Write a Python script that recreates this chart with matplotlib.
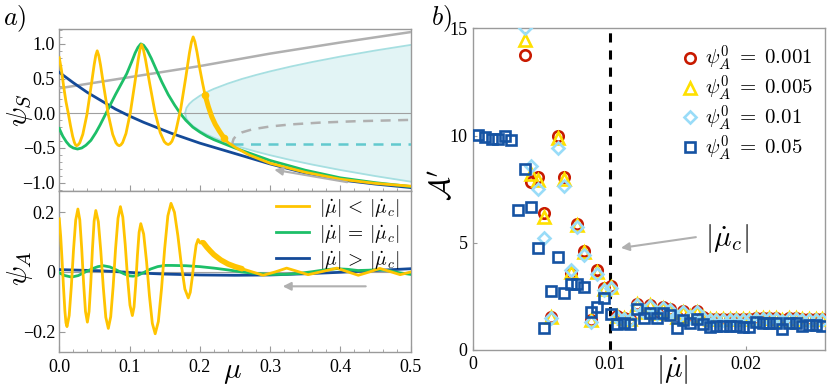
import matplotlib
matplotlib.use('Agg')
import matplotlib.pyplot as plt
from matplotlib.ticker import MultipleLocator, FixedLocator, FixedFormatter

plt.rcParams['font.family'] = ['Liberation Serif', 'DejaVu Serif']
plt.rcParams['mathtext.fontset'] = 'cm'

# ---------------- panel a) top : psi_S vs mu ----------------
gray_mu = [0.0, 0.1, 0.2, 0.25, 0.3, 0.4, 0.5]
gray_psi = [0.36, 0.52, 0.68, 0.77, 0.86, 1.02, 1.17]

grayd_mu = [0.247, 0.2465, 0.248, 0.252, 0.26, 0.275, 0.3, 0.33, 0.37, 0.42, 0.5]
grayd_psi = [-0.47, -0.42, -0.37, -0.32, -0.275, -0.23, -0.19, -0.16, -0.135, -0.115, -0.095]

cyan_mu = [0.179, 0.181, 0.185, 0.19, 0.2, 0.21, 0.22, 0.24, 0.26, 0.28, 0.3, 0.33, 0.36, 0.4, 0.45, 0.5]
cyan_up = [0.0, 0.078, 0.135, 0.182, 0.252, 0.306, 0.352, 0.429, 0.495, 0.552, 0.604, 0.675, 0.739, 0.817, 0.905, 0.985]
cyan_lo = [0.0, -0.078, -0.135, -0.182, -0.252, -0.306, -0.352, -0.429, -0.495, -0.552, -0.604, -0.675, -0.739, -0.817, -0.905, -0.985]

cyand_mu = [0.247, 0.5]
cyand_psi = [-0.447, -0.447]

blue_top_mu = [0.0, 0.02, 0.04, 0.06, 0.08, 0.1, 0.12, 0.14, 0.16, 0.18, 0.2, 0.22, 0.25, 0.3, 0.35, 0.4, 0.45, 0.5]
blue_top_psi = [0.59, 0.44, 0.30, 0.18, 0.06, -0.04, -0.13, -0.21, -0.29, -0.36, -0.43, -0.49, -0.58, -0.73, -0.86, -0.96, -1.02, -1.07]

green_top_mu = [0.0, 0.005, 0.01, 0.015, 0.02, 0.026, 0.032, 0.038, 0.045, 0.052, 0.058, 0.065, 0.072, 0.08,
                0.088, 0.096, 0.103, 0.108, 0.112, 0.116, 0.12, 0.125, 0.131, 0.138, 0.146, 0.155, 0.164,
                0.172, 0.18, 0.19, 0.2, 0.21, 0.22, 0.235, 0.25, 0.275, 0.3, 0.35, 0.4, 0.45, 0.5]
green_top_psi = [-0.22, -0.33, -0.41, -0.47, -0.50, -0.515, -0.50, -0.46, -0.39, -0.28, -0.17, -0.03, 0.11, 0.27,
                 0.42, 0.57, 0.74, 0.87, 0.95, 1.0, 0.98, 0.91, 0.79, 0.63, 0.45, 0.27, 0.12,
                 0.0, -0.10, -0.20, -0.27, -0.33, -0.38, -0.44, -0.50, -0.59, -0.68, -0.82, -0.93, -1.0, -1.055]

yellow_top_mu = [0.0, 0.003, 0.0065, 0.0095, 0.0128, 0.016, 0.019, 0.0215, 0.0232, 0.0247,
                 0.0267, 0.0291, 0.0335, 0.0394, 0.0452, 0.0496, 0.0519, 0.054,
                 0.0562, 0.0587, 0.0634, 0.0697, 0.076, 0.0807, 0.0832, 0.0854,
                 0.0876, 0.0901, 0.0949, 0.1012, 0.1075, 0.1123, 0.1148, 0.117,
                 0.1197, 0.1227, 0.1284, 0.136, 0.1436, 0.1493, 0.1523, 0.155,
                 0.1575, 0.1603, 0.1657, 0.1728, 0.1799, 0.1852, 0.188, 0.1905,
                 0.193, 0.196, 0.2, 0.204, 0.2073]
yellow_top_psi = [0.80, 0.63, 0.37, 0.17, 0.0, -0.18, -0.33, -0.42, -0.455, -0.467,
                  -0.456, -0.426, -0.303, -0.016, 0.381, 0.695, 0.832, 0.90,
                  0.832, 0.695, 0.381, -0.016, -0.303, -0.426, -0.456, -0.467,
                  -0.455, -0.423, -0.292, 0.014, 0.436, 0.771, 0.917, 0.99,
                  0.918, 0.774, 0.443, 0.025, -0.277, -0.407, -0.438, -0.45,
                  -0.438, -0.404, -0.264, 0.062, 0.511, 0.868, 1.023, 1.10,
                  1.03, 0.88, 0.64, 0.43, 0.27]
yellow_thick_mu = [0.2073, 0.212, 0.217, 0.222, 0.228, 0.234]
yellow_thick_psi = [0.27, 0.10, -0.05, -0.16, -0.26, -0.35]
yellow_tail_mu = [0.234, 0.24, 0.252, 0.27, 0.3, 0.35, 0.4, 0.45, 0.5]
yellow_tail_psi = [-0.35, -0.42, -0.50, -0.60, -0.72, -0.85, -0.95, -1.01, -1.05]

# ---------------- panel a) bottom : psi_A vs mu ----------------
yellow_bot_mu = [0.0, 0.002, 0.004, 0.006, 0.008, 0.0095, 0.011,
                 0.0141, 0.0172, 0.0203, 0.0234, 0.0265,
                 0.0292, 0.0319, 0.0346, 0.0373, 0.040,
                 0.0424, 0.0448, 0.0472, 0.0496, 0.052,
                 0.0556, 0.0591, 0.0627, 0.0662, 0.0698,
                 0.0732, 0.0767, 0.0801, 0.0836, 0.087,
                 0.0904, 0.0938, 0.0972, 0.1006, 0.104,
                 0.1064, 0.1088, 0.1112, 0.1136, 0.116,
                 0.1201, 0.1242, 0.1283, 0.1324, 0.1365,
                 0.141, 0.1455, 0.15, 0.1545, 0.159,
                 0.1639, 0.1688, 0.1738, 0.1787, 0.1836,
                 0.1864, 0.1892, 0.1919, 0.1947, 0.1975,
                 0.2005, 0.203, 0.205]
yellow_bot_psi = [0.178, 0.12, 0.04, -0.05, -0.13, -0.17, -0.183,
                  -0.146, -0.047, 0.075, 0.174, 0.211,
                  0.175, 0.080, -0.037, -0.132, -0.168,
                  -0.1325, -0.039, 0.077, 0.1705, 0.206,
                  0.1685, 0.070, -0.053, -0.1515, -0.189,
                  -0.150, -0.048, 0.078, 0.180, 0.219,
                  0.184, 0.093, -0.020, -0.111, -0.146,
                  -0.117, -0.040, 0.056, 0.133, 0.162,
                  0.127, 0.035, -0.080, -0.172, -0.207,
                  -0.1655, -0.056, 0.079, 0.188, 0.23,
                  0.200, 0.121, 0.022, -0.057, -0.087,
                  -0.068, -0.019, 0.041, 0.090, 0.109,
                  0.097, 0.103, 0.098]
yellow_bthick_mu = [0.205, 0.21, 0.215, 0.22, 0.23, 0.24, 0.25, 0.26]
yellow_bthick_psi = [0.098, 0.083, 0.07, 0.058, 0.04, 0.027, 0.018, 0.011]
yellow_btail_mu = [0.26, 0.275, 0.29, 0.307, 0.3235, 0.339, 0.354, 0.375, 0.395, 0.41, 0.4255, 0.441, 0.456, 0.47, 0.485, 0.5]
yellow_btail_psi = [0.011, 0.0, -0.011, 0.0, 0.013, 0.002, -0.009, 0.002, 0.013, 0.001, -0.011, 0.0, 0.012, 0.002, -0.009, 0.0]

green_bot_mu = [0.0, 0.008, 0.0176, 0.027, 0.037, 0.047, 0.055, 0.0626, 0.072, 0.082, 0.092, 0.1, 0.105, 0.112,
                0.12, 0.13, 0.14, 0.15, 0.16, 0.18, 0.2, 0.22, 0.24, 0.26, 0.28, 0.3, 0.32, 0.34, 0.36, 0.38,
                0.395, 0.41, 0.425, 0.44, 0.455, 0.47, 0.485, 0.5]
green_bot_psi = [-0.003, -0.012, -0.017, -0.012, 0.0, 0.011, 0.018, 0.021, 0.017, 0.006, -0.006, -0.013, -0.014, -0.011,
                 -0.002, 0.01, 0.018, 0.022, 0.022, 0.021, 0.018, 0.013, 0.007, 0.0, -0.005, -0.008, -0.008, -0.005, 0.001, 0.008,
                 0.011, 0.009, 0.005, 0.006, 0.008, 0.004, -0.003, -0.008]

blue_bot_mu = [0.0, 0.03, 0.06, 0.09, 0.12, 0.15, 0.2, 0.25, 0.3, 0.35, 0.4, 0.45, 0.5]
blue_bot_psi = [0.008, 0.006, 0.004, 0.0, -0.004, -0.007, -0.01, -0.011, -0.01, -0.006, -0.001, 0.005, 0.011]

legend_labels = [r'$|\dot{\mu}|\,<\,|\dot{\mu}_c|$', r'$|\dot{\mu}|\,=\,|\dot{\mu}_c|$', r'$|\dot{\mu}|\,>\,|\dot{\mu}_c|$']

# ---------------- panel b) : A' vs |mu_dot| ----------------
mu_dot = [0.00037, 0.000855, 0.00134, 0.001825, 0.00231, 0.002795, 0.00328, 0.003765, 0.00425, 0.004735,
          0.00522, 0.005705, 0.00619, 0.006675, 0.00716, 0.007645, 0.00813, 0.008615, 0.0091, 0.009585,
          0.01007, 0.010555, 0.01104, 0.011525, 0.01201, 0.012495, 0.01298, 0.013465, 0.01395, 0.014435,
          0.01492, 0.015405, 0.01589, 0.016375, 0.01686, 0.017345, 0.01783, 0.018315, 0.0188, 0.019285,
          0.01977, 0.020255, 0.02074, 0.021225, 0.02171, 0.022195, 0.02268, 0.023165, 0.02365, 0.024135,
          0.02462, 0.025105, 0.02559]
A_005 = [10.01, 9.91, 9.83, 9.83, 10.0, 9.78, 6.51, 8.43, 6.66, 4.74,
         1.01, 2.76, 4.33, 2.67, 3.08, 3.08, 2.92, 1.75, 2.0, 2.41,
         1.66, 1.21, 1.25, 1.22, 1.92, 1.47, 1.71, 1.48, 1.74, 1.63,
         1.04, 1.40, 1.27, 1.43, 1.21, 1.09, 1.12, 1.12, 1.12, 1.12,
         1.09, 1.06, 1.32, 1.27, 1.24, 1.27, 0.98, 1.24, 1.24, 1.12,
         1.16, 1.16, 1.12]
# the three small-amplitude series start at the 8th rate (earlier values are above 15)
A_0001 = [13.77, 7.84, 8.07, 6.37, 1.55, 10.0, 8.07, 3.6, 5.88, 4.6, 1.42, 3.72, 2.9, 2.98,
          1.6, 1.5, 1.45, 2.15, 1.8, 2.1, 1.75, 2.0, 1.9, 1.55, 1.8, 1.6, 1.8, 1.55,
          1.45, 1.45, 1.45, 1.45, 1.45, 1.45, 1.45, 1.5, 1.5, 1.5, 1.5, 1.4, 1.5, 1.5,
          1.45, 1.45, 1.45, 1.45]
A_0005 = [14.47, 8.2, 7.92, 6.18, 1.52, 9.9, 7.95, 3.65, 5.82, 4.55, 1.38, 3.65, 2.85, 2.95,
          1.58, 1.48, 1.43, 2.13, 1.78, 2.08, 1.73, 1.98, 1.88, 1.53, 1.78, 1.58, 1.78, 1.53,
          1.43, 1.43, 1.43, 1.43, 1.43, 1.43, 1.43, 1.48, 1.48, 1.48, 1.48, 1.38, 1.48, 1.48,
          1.43, 1.43, 1.43, 1.43]
A_001 = [15.0, 8.58, 7.5, 5.2, 1.48, 9.42, 7.65, 3.73, 5.74, 4.42, 1.32, 3.54, 2.79, 2.87,
         1.55, 1.45, 1.40, 2.1, 1.75, 2.05, 1.7, 1.95, 1.85, 1.5, 1.75, 1.55, 1.75, 1.5,
         1.4, 1.4, 1.4, 1.4, 1.4, 1.4, 1.4, 1.45, 1.45, 1.45, 1.45, 1.35, 1.45, 1.45,
         1.4, 1.4, 1.4, 1.4]
mu_dot_c = 0.01
series_labels = [r'$\psi_A^0\;=\;0.001$', r'$\psi_A^0\;=\;0.005$', r'$\psi_A^0\;=\;0.01$', r'$\psi_A^0\;=\;0.05$']

# ---------------- styling ----------------
C_YEL = '#ffc400'
C_GRN = '#1dbf68'
C_BLU = '#144a98'
C_GRAY = '#b0b0b0'
C_FILL = '#e2f4f5'
C_CEDGE = '#a6dfe1'
C_CDASH = '#62c9ce'
SPINE = '#9a9a9a'

fig = plt.figure(figsize=(8.3, 3.86), dpi=100)
axT = fig.add_axes([0.0714, 0.506, 0.4234, 0.4181])
axB = fig.add_axes([0.0714, 0.0889, 0.4234, 0.4160])
axR = fig.add_axes([0.5702, 0.0933, 0.4238, 0.8334])

for ax in (axT, axB, axR):
    for s in ax.spines.values():
        s.set_color(SPINE)
        s.set_linewidth(1.0)
    ax.tick_params(which='both', direction='in', color=SPINE, labelsize=13, pad=3)
    ax.tick_params(which='major', length=4)
    ax.tick_params(which='minor', length=2)

# top panel
axT.fill_between(cyan_mu, cyan_lo, cyan_up, color=C_FILL, lw=0, zorder=1)
axT.plot(cyan_mu, cyan_up, color=C_CEDGE, lw=1.3, zorder=2)
axT.plot(cyan_mu, cyan_lo, color=C_CEDGE, lw=1.3, zorder=2)
axT.axhline(0, color='#a0a0a0', lw=0.8, zorder=2)
axT.plot(gray_mu, gray_psi, color=C_GRAY, lw=1.8, zorder=3)
axT.plot(grayd_mu, grayd_psi, color=C_GRAY, lw=1.8, dashes=(4, 3), zorder=3)
axT.plot(cyand_mu, cyand_psi, color=C_CDASH, lw=1.8, dashes=(4, 3), zorder=3)
axT.plot(blue_top_mu, blue_top_psi, color=C_BLU, lw=2.0, zorder=4)
axT.plot(green_top_mu, green_top_psi, color=C_GRN, lw=2.0, zorder=5)
axT.plot(yellow_top_mu, yellow_top_psi, color=C_YEL, lw=2.0, zorder=6)
axT.plot(yellow_thick_mu, yellow_thick_psi, color=C_YEL, lw=3.6, zorder=6, solid_capstyle='round')
axT.plot(yellow_tail_mu, yellow_tail_psi, color=C_YEL, lw=2.0, zorder=6)
axT.plot([yellow_thick_mu[0], yellow_thick_mu[-1]], [yellow_thick_psi[0], yellow_thick_psi[-1]],
         ls='none', marker='o', ms=4.5, color=C_YEL, zorder=7)
axT.annotate('', xy=(0.302, -0.806), xytext=(0.4135, -1.0),
             arrowprops=dict(arrowstyle='-|>', color=C_GRAY, lw=1.5, mutation_scale=12), zorder=8)
axT.set_xlim(0, 0.5)
axT.set_ylim(-1.115, 1.21)
axT.yaxis.set_major_locator(FixedLocator([-1.0, -0.5, 0.0, 0.5, 1.0]))
axT.yaxis.set_major_formatter(FixedFormatter(['\u22121.0', '\u22120.5', '0.0', '0.5', '1.0']))
axT.yaxis.set_minor_locator(MultipleLocator(0.1))
axT.xaxis.set_major_locator(MultipleLocator(0.1))
axT.xaxis.set_minor_locator(MultipleLocator(0.02))
axT.tick_params(axis='x', labelbottom=False)

# bottom panel
axB.axhline(0, color='#a0a0a0', lw=0.8, zorder=2)
lb, = axB.plot(blue_bot_mu, blue_bot_psi, color=C_BLU, lw=2.0, zorder=4)
lg, = axB.plot(green_bot_mu, green_bot_psi, color=C_GRN, lw=2.0, zorder=5)
ly, = axB.plot(yellow_bot_mu, yellow_bot_psi, color=C_YEL, lw=2.0, zorder=6)
axB.plot(yellow_bthick_mu, yellow_bthick_psi, color=C_YEL, lw=4.0, zorder=6, solid_capstyle='round')
axB.plot(yellow_btail_mu, yellow_btail_psi, color=C_YEL, lw=2.0, zorder=6)
axB.annotate('', xy=(0.314, -0.048), xytext=(0.44, -0.048),
             arrowprops=dict(arrowstyle='-|>', color=C_GRAY, lw=1.5, mutation_scale=12), zorder=8)
axB.set_xlim(0, 0.5)
axB.set_ylim(-0.267, 0.271)
axB.yaxis.set_major_locator(FixedLocator([-0.2, 0.0, 0.2]))
axB.yaxis.set_major_formatter(FixedFormatter(['\u22120.2', '0', '0.2']))
axB.xaxis.set_major_locator(FixedLocator([0.0, 0.1, 0.2, 0.3, 0.4, 0.5]))
axB.xaxis.set_major_formatter(FixedFormatter(['0.0', '0.1', '0.2', '0.3', '0.4', '0.5']))
axB.xaxis.set_minor_locator(MultipleLocator(0.02))
axB.tick_params(axis='x', pad=5)
leg = axB.legend([ly, lg, lb], legend_labels, loc='upper right', bbox_to_anchor=(1.0, 1.035),
                 frameon=False, fontsize=14, handlelength=1.7, handletextpad=0.5, labelspacing=0.2,
                 borderaxespad=0.2)
leg.set_zorder(10)

fig.text(20 / 830, 1 - 110 / 386, r'$\psi_S$', fontsize=21, rotation=90, ha='center', va='center')
fig.text(20 / 830, 1 - 268 / 386, r'$\psi_A$', fontsize=21, rotation=90, ha='center', va='center')
fig.text(232 / 830, 1 - 373 / 386, r'$\mu$', fontsize=21, ha='center', va='center')
fig.text(3 / 830, 1 - 3 / 386, r'$a)$', fontsize=19, ha='left', va='top')
fig.text(431 / 830, 1 - 3 / 386, r'$b)$', fontsize=19, ha='left', va='top')

# right panel
axR.axvline(mu_dot_c, color='k', lw=2.2, dashes=(3, 2.6), zorder=2)
mk = dict(ls='none', mfc='none', mew=1.9)
h1, = axR.plot(mu_dot[7:], A_0001, marker='o', ms=7.5, mec='#c81a00', zorder=3, **mk)
h2, = axR.plot(mu_dot[7:], A_0005, marker='^', ms=8, mec='#ffe000', zorder=4, **mk)
h3, = axR.plot(mu_dot[7:], A_001, marker='D', ms=6.5, mec='#99dcf8', zorder=5, **mk)
h4, = axR.plot(mu_dot, A_005, marker='s', ms=7, mec='#1553a3', zorder=6, **mk)
axR.set_xlim(0, 0.0258)
axR.set_ylim(0, 15)
axR.xaxis.set_major_locator(FixedLocator([0.0, 0.01, 0.02]))
axR.xaxis.set_major_formatter(FixedFormatter(['0', '0.01', '0.02']))
axR.yaxis.set_major_locator(FixedLocator([0, 5, 10, 15]))
axR.yaxis.set_major_formatter(FixedFormatter(['0', '5', '10', '15']))
axR.tick_params(axis='both', length=3, pad=4)
axR.legend([h1, h2, h3, h4], series_labels, loc='upper right', bbox_to_anchor=(1.0, 0.99),
           frameon=False, fontsize=15, handlelength=0.8, handletextpad=0.3, labelspacing=0.02,
           borderaxespad=0.2)
axR.annotate('', xy=(0.01063, 4.74), xytext=(0.01653, 5.28),
             arrowprops=dict(arrowstyle='-|>', color=C_GRAY, lw=1.5, mutation_scale=12), zorder=8)
axR.text(0.0186, 5.2, r'$|\dot{\mu}_c|$', fontsize=21, ha='center', va='center')
fig.text(672 / 830, 1 - 370 / 386, r'$|\dot{\mu}|$', fontsize=21, ha='center', va='center')
fig.text(443 / 830, 1 - 185 / 386, r'$\mathcal{A}^{\prime}$', fontsize=21, rotation=90, ha='center', va='center')

fig.savefig('out.png', dpi=100)
